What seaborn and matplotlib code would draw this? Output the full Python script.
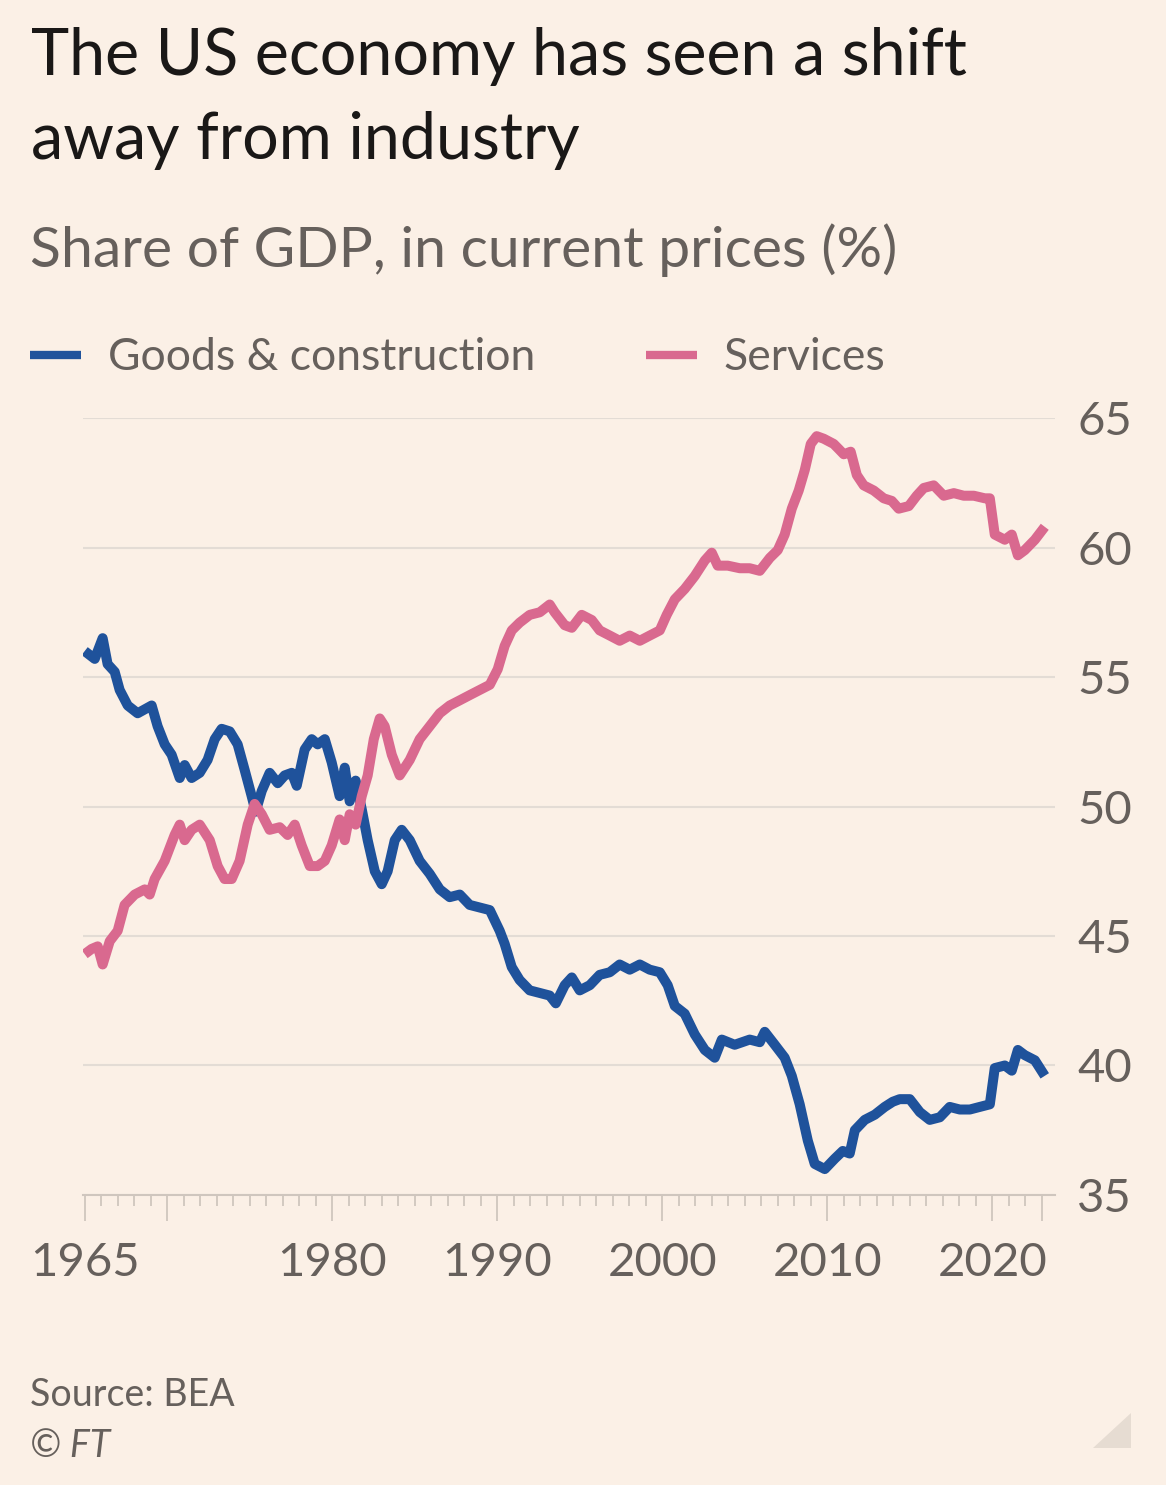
import pandas as pd
import numpy as np
import seaborn as sns
import matplotlib.pyplot as plt
from matplotlib.lines import Line2D
from matplotlib.patches import Polygon
from matplotlib.ticker import FixedLocator, MultipleLocator

# Goods & construction, share of GDP (%)
goods_years = [1965.00, 1965.61, 1966.09, 1966.39, 1966.82, 1967.12, 1967.61, 1968.21,
               1969.06, 1969.42, 1969.85, 1970.27, 1970.76, 1971.06, 1971.48, 1971.97,
               1972.45, 1972.88, 1973.30, 1973.79, 1974.27, 1974.70, 1975.12, 1975.36,
               1975.73, 1976.21, 1976.70, 1977.12, 1977.55, 1977.85, 1978.33, 1978.76,
               1979.12, 1979.55, 1979.97, 1980.45, 1980.76, 1981.06, 1981.42, 1981.79,
               1982.15, 1982.58, 1983.00, 1983.36, 1983.79, 1984.21, 1984.70, 1985.30,
               1985.91, 1986.52, 1987.12, 1987.73, 1988.33, 1988.94, 1989.55, 1990.15,
               1990.45, 1990.88, 1991.36, 1991.97, 1992.58, 1993.18, 1993.55, 1994.09,
               1994.52, 1995.00, 1995.61, 1996.21, 1996.82, 1997.42, 1998.03, 1998.64,
               1999.24, 1999.85, 2000.33, 2000.76, 2001.36, 2001.97, 2002.58, 2003.18,
               2003.61, 2004.39, 2005.30, 2005.91, 2006.21, 2006.82, 2007.42, 2007.85,
               2008.33, 2008.82, 2009.24, 2009.85, 2010.45, 2010.94, 2011.36, 2011.67,
               2012.27, 2012.88, 2013.48, 2013.97, 2014.39, 2015.00, 2015.61, 2016.21,
               2016.82, 2017.42, 2018.03, 2018.64, 2019.24, 2019.85, 2020.15, 2020.76,
               2021.18, 2021.55, 2021.97, 2022.58, 2023.18]
goods_share = [56.0, 55.7, 56.5, 55.5, 55.2, 54.5, 53.9, 53.6,
               53.9, 53.1, 52.4, 52.0, 51.1, 51.6, 51.1, 51.3,
               51.8, 52.6, 53.0, 52.9, 52.4, 51.4, 50.4, 49.8,
               50.6, 51.3, 50.9, 51.2, 51.3, 50.8, 52.2, 52.6,
               52.4, 52.6, 51.7, 50.4, 51.5, 50.2, 51.0, 49.9,
               48.7, 47.5, 47.0, 47.5, 48.7, 49.1, 48.7, 47.9,
               47.4, 46.8, 46.5, 46.6, 46.2, 46.1, 46.0, 45.2,
               44.7, 43.8, 43.3, 42.9, 42.8, 42.7, 42.4, 43.1,
               43.4, 42.9, 43.1, 43.5, 43.6, 43.9, 43.7, 43.9,
               43.7, 43.6, 43.1, 42.3, 42.0, 41.2, 40.6, 40.3,
               41.0, 40.8, 41.0, 40.9, 41.3, 40.8, 40.3, 39.6,
               38.5, 37.1, 36.2, 36.0, 36.4, 36.7, 36.6, 37.5,
               37.9, 38.1, 38.4, 38.6, 38.7, 38.7, 38.2, 37.9,
               38.0, 38.4, 38.3, 38.3, 38.4, 38.5, 39.9, 40.0,
               39.8, 40.6, 40.4, 40.2, 39.6]

# Services, share of GDP (%)
services_years = [1965.00, 1965.42, 1965.79, 1966.09, 1966.52, 1967.00, 1967.42, 1968.03,
                  1968.64, 1968.94, 1969.24, 1969.85, 1970.45, 1970.76, 1971.06, 1971.48,
                  1971.97, 1972.58, 1973.06, 1973.48, 1973.91, 1974.39, 1974.88, 1975.30,
                  1975.73, 1976.21, 1976.82, 1977.30, 1977.73, 1978.15, 1978.64, 1979.12,
                  1979.55, 1979.97, 1980.45, 1980.76, 1981.06, 1981.42, 1981.79, 1982.15,
                  1982.52, 1982.88, 1983.18, 1983.61, 1984.09, 1984.70, 1985.30, 1985.91,
                  1986.52, 1987.12, 1987.73, 1988.33, 1988.94, 1989.55, 1990.03, 1990.45,
                  1990.88, 1991.36, 1991.97, 1992.58, 1993.18, 1993.48, 1994.09, 1994.52,
                  1995.12, 1995.73, 1996.21, 1996.82, 1997.42, 1998.03, 1998.64, 1999.24,
                  1999.85, 2000.27, 2000.76, 2001.36, 2001.97, 2002.58, 2003.00, 2003.36,
                  2003.97, 2004.70, 2005.30, 2005.91, 2006.52, 2007.00, 2007.42, 2007.85,
                  2008.27, 2008.64, 2009.00, 2009.36, 2009.79, 2010.39, 2010.70, 2011.00,
                  2011.42, 2011.79, 2012.21, 2012.82, 2013.42, 2013.91, 2014.33, 2014.94,
                  2015.42, 2015.85, 2016.45, 2017.06, 2017.67, 2018.27, 2018.88, 2019.55,
                  2019.85, 2020.15, 2020.76, 2021.18, 2021.55, 2021.97, 2022.58, 2023.18]
services_share = [44.3, 44.5, 44.6, 43.9, 44.8, 45.2, 46.2, 46.6,
                  46.8, 46.6, 47.2, 47.9, 48.9, 49.3, 48.7, 49.1,
                  49.3, 48.7, 47.7, 47.2, 47.2, 47.9, 49.3, 50.1,
                  49.7, 49.1, 49.2, 48.9, 49.3, 48.5, 47.7, 47.7,
                  47.9, 48.5, 49.5, 48.7, 49.7, 49.3, 50.4, 51.2,
                  52.6, 53.4, 53.1, 52.0, 51.2, 51.8, 52.6, 53.1,
                  53.6, 53.9, 54.1, 54.3, 54.5, 54.7, 55.3, 56.2,
                  56.8, 57.1, 57.4, 57.5, 57.8, 57.5, 57.0, 56.9,
                  57.4, 57.2, 56.8, 56.6, 56.4, 56.6, 56.4, 56.6,
                  56.8, 57.4, 58.0, 58.4, 58.9, 59.5, 59.8, 59.3,
                  59.3, 59.2, 59.2, 59.1, 59.6, 59.9, 60.5, 61.5,
                  62.2, 63.0, 64.0, 64.3, 64.2, 64.0, 63.8, 63.6,
                  63.7, 62.8, 62.4, 62.2, 61.9, 61.8, 61.5, 61.6,
                  62.0, 62.3, 62.4, 62.0, 62.1, 62.0, 62.0, 61.9,
                  61.9, 60.5, 60.3, 60.5, 59.7, 59.9, 60.3, 60.8]

series_names = ['Goods & construction', 'Services']
series_colors = ['#1F529B', '#D9698F']
y_ticks = [35, 40, 45, 50, 55, 60, 65]
x_major = [1965, 1970, 1980, 1990, 2000, 2010, 2020, 2023]
x_labels = ['1965', '', '1980', '1990', '2000', '2010', '2020', '']

bg = '#FBF0E6'
grey_text = '#66605C'
grid_col = '#E3DCD5'
tick_col = '#CFC6BE'

df = pd.concat([
    pd.DataFrame({'year': goods_years, 'share': goods_share, 'series': series_names[0]}),
    pd.DataFrame({'year': services_years, 'share': services_share, 'series': series_names[1]}),
], ignore_index=True)

sns.set_style('white')
plt.rcParams['font.family'] = ['Lato', 'DejaVu Sans']

fig = plt.figure(figsize=(11.66, 14.85), dpi=100, facecolor=bg)
ax = fig.add_axes([0.0712, 0.1953, 0.8336, 0.5232])
ax.set_facecolor(bg)

sns.lineplot(data=df, x='year', y='share', hue='series',
             palette=dict(zip(series_names, series_colors)),
             estimator=None, sort=False, linewidth=7.2, legend=False, ax=ax)
for ln in ax.lines:
    ln.set_solid_joinstyle('round')
    ln.set_solid_capstyle('butt')

ax.set_xlim(1964.9, 2023.8)
ax.set_ylim(35, 65)
ax.set_xlabel('')
ax.set_ylabel('')

# gridlines and right-hand y labels
ax.yaxis.tick_right()
ax.set_yticks(y_ticks)
ax.set_yticklabels([str(v) for v in y_ticks])
ax.grid(axis='y', color=grid_col, linewidth=1.5)
ax.grid(axis='x', visible=False)
ax.set_axisbelow(True)
ax.tick_params(axis='y', length=0, pad=16, labelsize=34, labelcolor=grey_text)

# x axis with long major and short yearly ticks
ax.xaxis.set_major_locator(FixedLocator(x_major))
ax.set_xticklabels(x_labels)
ax.xaxis.set_minor_locator(MultipleLocator(1))
ax.tick_params(axis='x', which='both', bottom=True, direction='out')
ax.tick_params(axis='x', which='major', length=19, width=1.3, color=tick_col,
               pad=15, labelsize=34, labelcolor=grey_text)
ax.tick_params(axis='x', which='minor', length=8, width=1.3, color=tick_col)

for side in ['top', 'right', 'left']:
    ax.spines[side].set_visible(False)
ax.spines['bottom'].set_color(tick_col)
ax.spines['bottom'].set_linewidth(1.5)

# titles
fig.text(31 / 1166, 1 - 57 / 1485, 'The US economy has seen a shift',
         fontsize=46.5, color='#1A1817', va='center', ha='left')
fig.text(31 / 1166, 1 - 140 / 1485, 'away from industry',
         fontsize=46.5, color='#1A1817', va='center', ha='left')
fig.text(30 / 1166, 1 - 250 / 1485, 'Share of GDP, in current prices (%)',
         fontsize=41, color=grey_text, va='center', ha='left')

# legend
handles = [Line2D([0], [0], color=c, linewidth=6, solid_capstyle='butt') for c in series_colors]
leg = fig.legend(handles, series_names, loc='center left',
                 bbox_to_anchor=(-10 / 1166, 1 - 358 / 1485), ncol=2, frameon=False,
                 fontsize=32, handlelength=1.15, handletextpad=0.6, columnspacing=2.5)
for t in leg.get_texts():
    t.set_color(grey_text)

# footer
fig.text(30 / 1166, 1 - 1395 / 1485, 'Source: BEA', fontsize=27, color=grey_text,
         va='center', ha='left')
fig.text(30 / 1166, 1 - 1446 / 1485, '\u00a9 FT', fontsize=27, color=grey_text,
         va='center', ha='left', style='italic')
fig.patches.append(Polygon([[1131 / 1166, 1 - 1448 / 1485], [1131 / 1166, 1 - 1413 / 1485],
                            [1093 / 1166, 1 - 1448 / 1485]], closed=True,
                           facecolor='#E6DCD2', edgecolor='none', transform=fig.transFigure))

plt.savefig('out.png', dpi=100, facecolor=bg)
